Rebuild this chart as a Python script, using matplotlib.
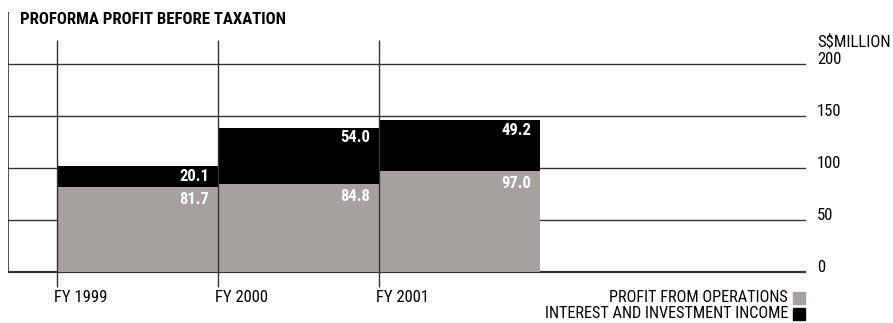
import matplotlib
matplotlib.use("Agg")
import matplotlib.pyplot as plt

plt.rcParams['font.family'] = ['Roboto Condensed', 'DejaVu Sans']

years = ["FY 1999", "FY 2000", "FY 2001"]
operations = [81.7, 84.8, 97.0]
interest = [20.1, 54.0, 49.2]
y_ticks = [0, 50, 100, 150, 200]

GREY = "#a6a19e"
LINE = "#333333"

fig = plt.figure(figsize=(8.93, 3.23), dpi=100)
# axes spans pixel x 8..806, y 12..298
ax = fig.add_axes([8 / 893, 25 / 323, 798 / 893, 286 / 323])
x0, x1 = -49 / 161, 749 / 161
ax.set_xlim(x0, x1)
ax.set_ylim(-25, 250)
for s in ax.spines.values():
    s.set_visible(False)

xs = list(range(len(years)))
ax.bar(xs, operations, width=1, align="edge", color=GREY, zorder=2)
ax.bar(xs, interest, bottom=operations, width=1, align="edge", color="black", zorder=2)

# grid lines
for v in y_ticks:
    ax.axhline(v, color=LINE, lw=1.6 if v == 0 else 1.0, zorder=1)
ax.vlines(x0, 0, 250, color=LINE, lw=1.2, zorder=3)
ax.vlines(xs, -14, 223, color=LINE, lw=1.0, zorder=3)

# right-hand value axis, labels sit on their grid line
ax.set_xticks([])
ax.yaxis.tick_right()
ax.set_yticks(y_ticks)
ax.set_yticklabels([str(v) for v in y_ticks], fontsize=12)
ax.tick_params(axis="y", length=0, pad=8)
for lab in ax.get_yticklabels():
    lab.set_verticalalignment("baseline")
ax.text(1.0 + 11 / 798, 221, "S$MILLION", transform=ax.get_yaxis_transform(),
        fontsize=12, ha="left", va="center")

# value labels
for i in xs:
    ax.annotate(f"{operations[i]:.1f}", (i + 1, operations[i]), xytext=(-6.5, -3.5),
                textcoords="offset points", ha="right", va="top",
                color="white", fontsize=12, fontweight="bold", zorder=4)
    top = operations[i] + interest[i]
    ax.annotate(f"{interest[i]:.1f}", (i + 1, top), xytext=(-6.5, -2),
                textcoords="offset points", ha="right", va="top",
                color="white", fontsize=12, fontweight="bold", zorder=4)

# category labels
for i, name in zip(xs, years):
    ax.text(i - 3 / 161, -25, name, ha="left", va="center", fontsize=12, clip_on=False)

fig.text(20 / 893, 1 - 19 / 323, "PROFORMA PROFIT BEFORE TAXATION",
         fontsize=12.1, fontweight="bold", ha="left", va="center")

# legend
fig.text(788 / 893, 1 - 298 / 323, "PROFIT FROM OPERATIONS", fontsize=11.7,
         ha="right", va="center")
fig.text(788 / 893, 1 - 314 / 323, "INTEREST AND INVESTMENT INCOME", fontsize=11.7,
         ha="right", va="center")
fig.patches.append(plt.Rectangle((793 / 893, 1 - 304 / 323), 12 / 893, 12 / 323,
                                 transform=fig.transFigure, color=GREY))
fig.patches.append(plt.Rectangle((793 / 893, 1 - 320 / 323), 12 / 893, 12 / 323,
                                 transform=fig.transFigure, color="black"))

fig.savefig("out.png", dpi=100)
